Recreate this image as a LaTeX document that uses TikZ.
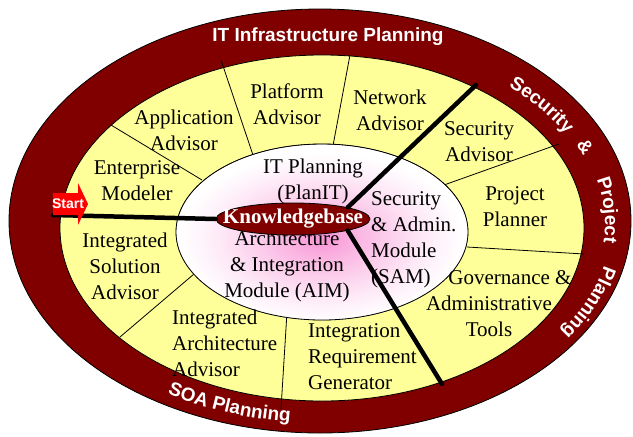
\documentclass[tikz,border=0pt]{standalone}
\usepackage{fontspec}
\setmainfont{Liberation Serif}
\setsansfont{Liberation Sans}
\usetikzlibrary{shapes.geometric,
	decorations.text,
	positioning}
\definecolor{ringred}{RGB}{128,0,0}
\definecolor{advisoryellow}{RGB}{255,255,153}
\definecolor{kbpink}{RGB}{248,145,212}
\def\advisorfont{\rmfamily\mdseries\upshape\fontsize{21}{26}\selectfont}
\def\ringfont{\sffamily\bfseries\fontsize{19}{22}\selectfont}

\begin{document}
\begin{tikzpicture}[x=1pt, y=1pt,
	advisor/.style={font=\advisorfont, align=center, inner sep=0pt},
	ringlabel/.style={font=\ringfont, text=white, inner sep=0pt},
	divider/.style={line width=0.8pt},
	spoke/.style={line width=4.5pt, line cap=round}]
	\useasboundingbox (0,0) rectangle (633,-437);
	% rings
	\draw[divider, fill=ringred] (320,-221) ellipse [x radius=311, y radius=212];
	\draw[divider, fill=advisoryellow] (322,-228) ellipse [x radius=262, y radius=173];
	\draw[divider] (111,-125) -- (202,-180);
	\draw[divider] (221,-60) -- (254,-158);
	\draw[divider] (350,-55) -- (332,-151);
	\draw[divider] (559,-144) -- (444,-185);
	\draw[divider] (467,-247) -- (584,-254);
	\draw[divider] (194,-274) -- (120,-337);
	\draw[divider] (287,-312) -- (281,-409);
	\draw[fill=white] (322,-232) ellipse [x radius=146, y radius=88];
	% pink glow round the knowledgebase
	\begin{scope}
		\clip (322,-232) ellipse [x radius=146, y radius=88];
		\foreach \k in {40,...,1} {
			\pgfmathtruncatemacro\glow{100*(1-\k/40)^1.3}
			\fill[kbpink!\glow!white] (322,-238) ellipse [x radius=3.7*\k, y radius=2.2*\k];
		}
	\end{scope}
	\draw[divider] (322,-232) ellipse [x radius=146, y radius=88];

	% advisors
	\node[advisor] (application) at (184,-130) {Application\\Advisor};
	\node[advisor] (platform) at (287,-104) {Platform\\Advisor};
	\node[advisor] (network) at (390,-110) {Network\\Advisor};
	\node[advisor] (securityadv) at (479,-142) {Security\\Advisor};
	\node[advisor] (enterprise) at (137,-181) {Enterprise\\Modeler};
	\node[advisor] (project) at (515,-207) {Project\\Planner};
	\node[advisor] (solution) at (125,-266) {Integrated\\Solution\\Advisor};
	\node[advisor] (governance) at (489,-304) {\hspace*{42pt}Governance \&\\Administrative\\Tools};
	\node[advisor, anchor=west, align=left] (archadv) at (172,-343) {Integrated\\Architecture\\Advisor};
	\node[advisor, anchor=west, align=left] (requirement) at (308,-357) {Integration\\Requirement\\Generator};

	% modules
	\node[advisor] (planit) at (313,-181) {IT Planning\\(PlanIT)};
	\node[advisor] (aim) at (287,-266) {Architecture\\\& Integration\\Module (AIM)};
	\node[advisor, anchor=west, align=left] (sam) at (371,-240) {Security\\\& Admin.\\Module\\(SAM)};

	\node[ellipse, draw, fill=ringred, line width=0.8pt, minimum width=154pt, minimum height=32pt, inner sep=0pt,
		font=\advisorfont\bfseries, text=white] (kb) at (293,-219) {\makebox[0pt]{Knowledgebase}};

	\coordinate (tail) at (53,-215);
	\coordinate (infraedge) at (476,-85);
	\coordinate (soaedge) at (442,-384);
	\draw[spoke] (tail) -- (kb.west);
	\draw[spoke] (kb.north east) -- (infraedge);
	\draw[spoke] (kb.south east) -- (soaedge);

	% start arrow
	\fill[red] (53,-193) -- (78,-193) -- (78,-183) -- (88,-204) -- (78,-225) -- (78,-215) -- (53,-215) -- cycle;
	\node[font=\sffamily\bfseries\fontsize{14}{16}\selectfont, text=white, inner sep=0pt] (start) at (68,-204) {Start};

	% ring labels
	\coordinate (ringc) at (321,-224);
	\node[ringlabel] (infralabel) at (328,-37) {IT Infrastructure Planning};
	\path[decorate, decoration={text along path, text={|\ringfont|Security}, text color=white, text align=center}]
		([shift={(53:280 and 185)}]ringc) arc [start angle=53, end angle=23, x radius=280, y radius=185];
	\path[decorate, decoration={text along path, text={|\ringfont|{\&}}, text color=white, text align=center}]
		([shift={(33:282 and 187)}]ringc) arc [start angle=33, end angle=13, x radius=282, y radius=187];
	\path[decorate, decoration={text along path, text={|\ringfont|Project}, text color=white, text align=center}]
		([shift={(19:284 and 188)}]ringc) arc [start angle=19, end angle=-11, x radius=284, y radius=188];
	\path[decorate, decoration={text along path, text={|\ringfont|Planning}, text color=white, text align=center}]
		([shift={(-8:290 and 192)}]ringc) arc [start angle=-8, end angle=-38, x radius=290, y radius=192];
	\path[decorate, decoration={text along path, text={|\ringfont|SOA Planning}, text color=white, text align=center}]
		([shift={(233:294 and 199)}]ringc) arc [start angle=233, end angle=269, x radius=294, y radius=199];
\end{tikzpicture}
\end{document}
